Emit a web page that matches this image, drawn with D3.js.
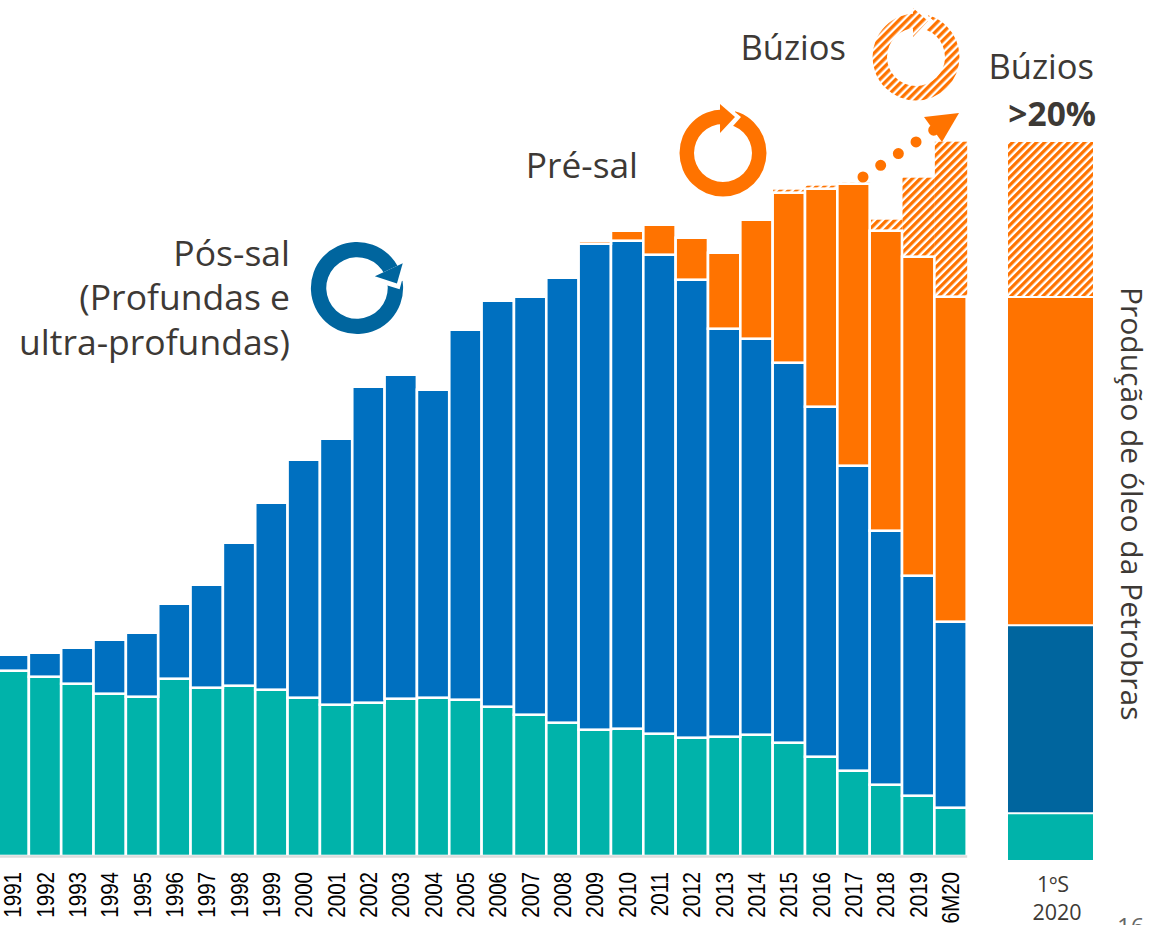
<!DOCTYPE html>
<html><head><meta charset="utf-8">
<script src="https://cdnjs.cloudflare.com/ajax/libs/d3/7.8.5/d3.min.js"></script>
<style>html,body{margin:0;padding:0;background:#fff;overflow:hidden}svg{display:block}</style>
</head><body><svg id="c" width="1150" height="925"></svg>
<script>
const years=["1991","1992","1993","1994","1995","1996","1997","1998","1999","2000","2001","2002","2003","2004","2005","2006","2007","2008","2009","2010","2011","2012","2013","2014","2015","2016","2017","2018","2019","6M20"];
const shallow=[184,178,171,161,158,176,167,169,165,157,150,152,156,157,155,148,140,132,125,126,121,117,118,120,112,98,84,70,59,47];
const deep=[16,24,36,54,64,75,103,143,187,238,266,316,324,308,370,406,418,445,486,488,479,458,408,396,380,350,305,254,220,186];
const preSal=[0,0,0,0,0,0,0,0,0,0,0,0,0,0,0,0,0,0,3,10,30,42,76,119,170,218,282,300,319,325];
const buzios=[0,0,0,0,0,0,0,0,0,0,0,0,0,0,0,0,0,0,0,0,0,0,0,0,3,3,1,11,79,155];
const shareKeys=["shallow","deep","preSal","buzios"];
const shareValues=[6.5,26.2,45.7,21.6];
const colors={shallow:"#00B3AA",deep:"#0070C0",preSal:"#FF7300"};
const shareColors={shallow:"#00B3AA",deep:"#00659E",preSal:"#FF7300",buzios:"url(#hatch)"};

const svg=d3.select("#c");
const FONT='"Open Sans",sans-serif', INK="#3d3935";
const defs=svg.append("defs");
const pat=defs.append("pattern").attr("id","hatch").attr("patternUnits","userSpaceOnUse")
  .attr("width",5.66).attr("height",5.66).attr("patternTransform","rotate(45)");
pat.append("rect").attr("width",5.66).attr("height",5.66).attr("fill","#fff");
pat.append("rect").attr("width",3.3).attr("height",5.66).attr("fill","#FF7300");

const x=d3.scaleBand().domain(years).range([-3.5,966.7]).padding(0);
const y=d3.scaleLinear().domain([0,855]).range([854.7,-0.3]);
const rows=years.map((d,i)=>({year:d,shallow:shallow[i],deep:deep[i],preSal:preSal[i],buzios:buzios[i]}));
const stack=d3.stack().keys(["shallow","deep","preSal","buzios"])(rows);

// hatched layer first, so the solid bars' white outline sits over it
svg.append("g").selectAll("rect").data(stack[3].filter(d=>d.data.buzios>0)).join("rect")
  .attr("x",d=>x(d.data.year)+0.5).attr("width",x.bandwidth())
  .attr("y",d=>y(d[1])).attr("height",d=>y(d[0])-y(d[1])).attr("fill","url(#hatch)");
stack.slice(0,3).forEach(layer=>{
  svg.append("g").selectAll("rect").data(layer.filter(d=>d[1]>d[0])).join("rect")
    .attr("x",d=>x(d.data.year)).attr("width",x.bandwidth())
    .attr("y",d=>y(d[1])).attr("height",d=>y(d[0])-y(d[1])+(layer.key==="shallow"?1.3:0))
    .attr("fill",colors[layer.key]).attr("stroke","#fff").attr("stroke-width",2.6);
});

const axis=svg.append("g").attr("transform","translate(0,856)").call(d3.axisBottom(x).tickSize(0));
axis.select(".domain").attr("stroke","#dcdcdc").attr("stroke-width",2.5);
axis.selectAll("text").attr("transform","rotate(-90) scale(0.86,1)").attr("text-anchor","end")
  .attr("x",-18.5).attr("y",0).attr("dy",".36em")
  .style("font-family",'"Liberation Sans",Arial,sans-serif').style("font-size","24px").attr("fill","#000");

// single stacked bar
const yShare=d3.scaleLinear().domain([0,100]).range([860,142]);
const xShare=d3.scaleBand().domain(["1ºS 2020"]).range([1008,1093]);
let acc=0;
const shareG=svg.append("g");
shareKeys.forEach((k,i)=>{
  const a=acc,b=acc+shareValues[i];acc=b;
  shareG.append("rect").attr("x",xShare("1ºS 2020")).attr("width",xShare.bandwidth())
    .attr("y",yShare(b)).attr("height",yShare(a)-yShare(b))
    .attr("fill",shareColors[k]);
  if(i>0) shareG.append("line").attr("x1",1008).attr("x2",1093).attr("y1",yShare(a)).attr("y2",yShare(a)).attr("stroke","#fff").attr("stroke-width",2);
});

function label(t,xp,yp,size,anchor,opts={}){
  return svg.append("text").attr("x",xp).attr("y",yp).attr("text-anchor",anchor)
    .style("font-family",FONT).style("font-size",size+"px").style("font-weight",opts.w||400)
    .attr("fill",opts.c||INK).text(t);
}
label("Pós-sal",290,266,35.5,"end");
label("(Profundas e",290,310,35.5,"end");
label("ultra-profundas)",290,355,35.5,"end");
label("Pré-sal",638,178,35.3,"end");
label("Búzios",846,60,34.5,"end");
label("Búzios",1094,79,34.5,"end");
label(">20%",1096,126,33.5,"end",{w:700});
label("1ºS",1053,892,21.5,"middle");
label("2020",1057,920,21.5,"middle");
label("16",1117,935,24,"start",{c:"#666"});
svg.append("text").attr("transform","translate(1121,287) rotate(90)")
  .style("font-family",FONT).style("font-size","30px").attr("fill",INK).text("Produção de óleo da Petrobras");

// circular-arrow icons: ring, the chevron-shaped gap, then the arrow head
function icon(cx,cy,rot,scale,fill){
  const g=svg.append("g").attr("transform",`translate(${cx},${cy}) rotate(${rot}) scale(${scale})`);
  g.append("path").attr("d",d3.arc().innerRadius(29).outerRadius(43.5).startAngle(0).endAngle(Math.PI*2)()).attr("fill",fill);
  g.append("path").attr("d","M-3,-50L12,-50L12,-41L18,-36L10,-27L-3,-20Z").attr("fill","#fff");
  g.append("path").attr("d","M-3,-49L12,-36L-3,-20Z").attr("fill",fill);
}
icon(723,153,0,1,"#FF7300");
icon(357,288,65,1.06,"#00659E");
icon(916,57,0,1,"url(#hatch)");

// dotted arrow
svg.append("line").attr("x1",863).attr("y1",177).attr("x2",934).attr("y2",130)
  .attr("stroke","#FF7300").attr("stroke-width",11).attr("stroke-linecap","round").attr("stroke-dasharray","0 21.2");
svg.append("path").attr("d","M924,117L959,113L942,142Z").attr("fill","#FF7300");
</script></body></html>
